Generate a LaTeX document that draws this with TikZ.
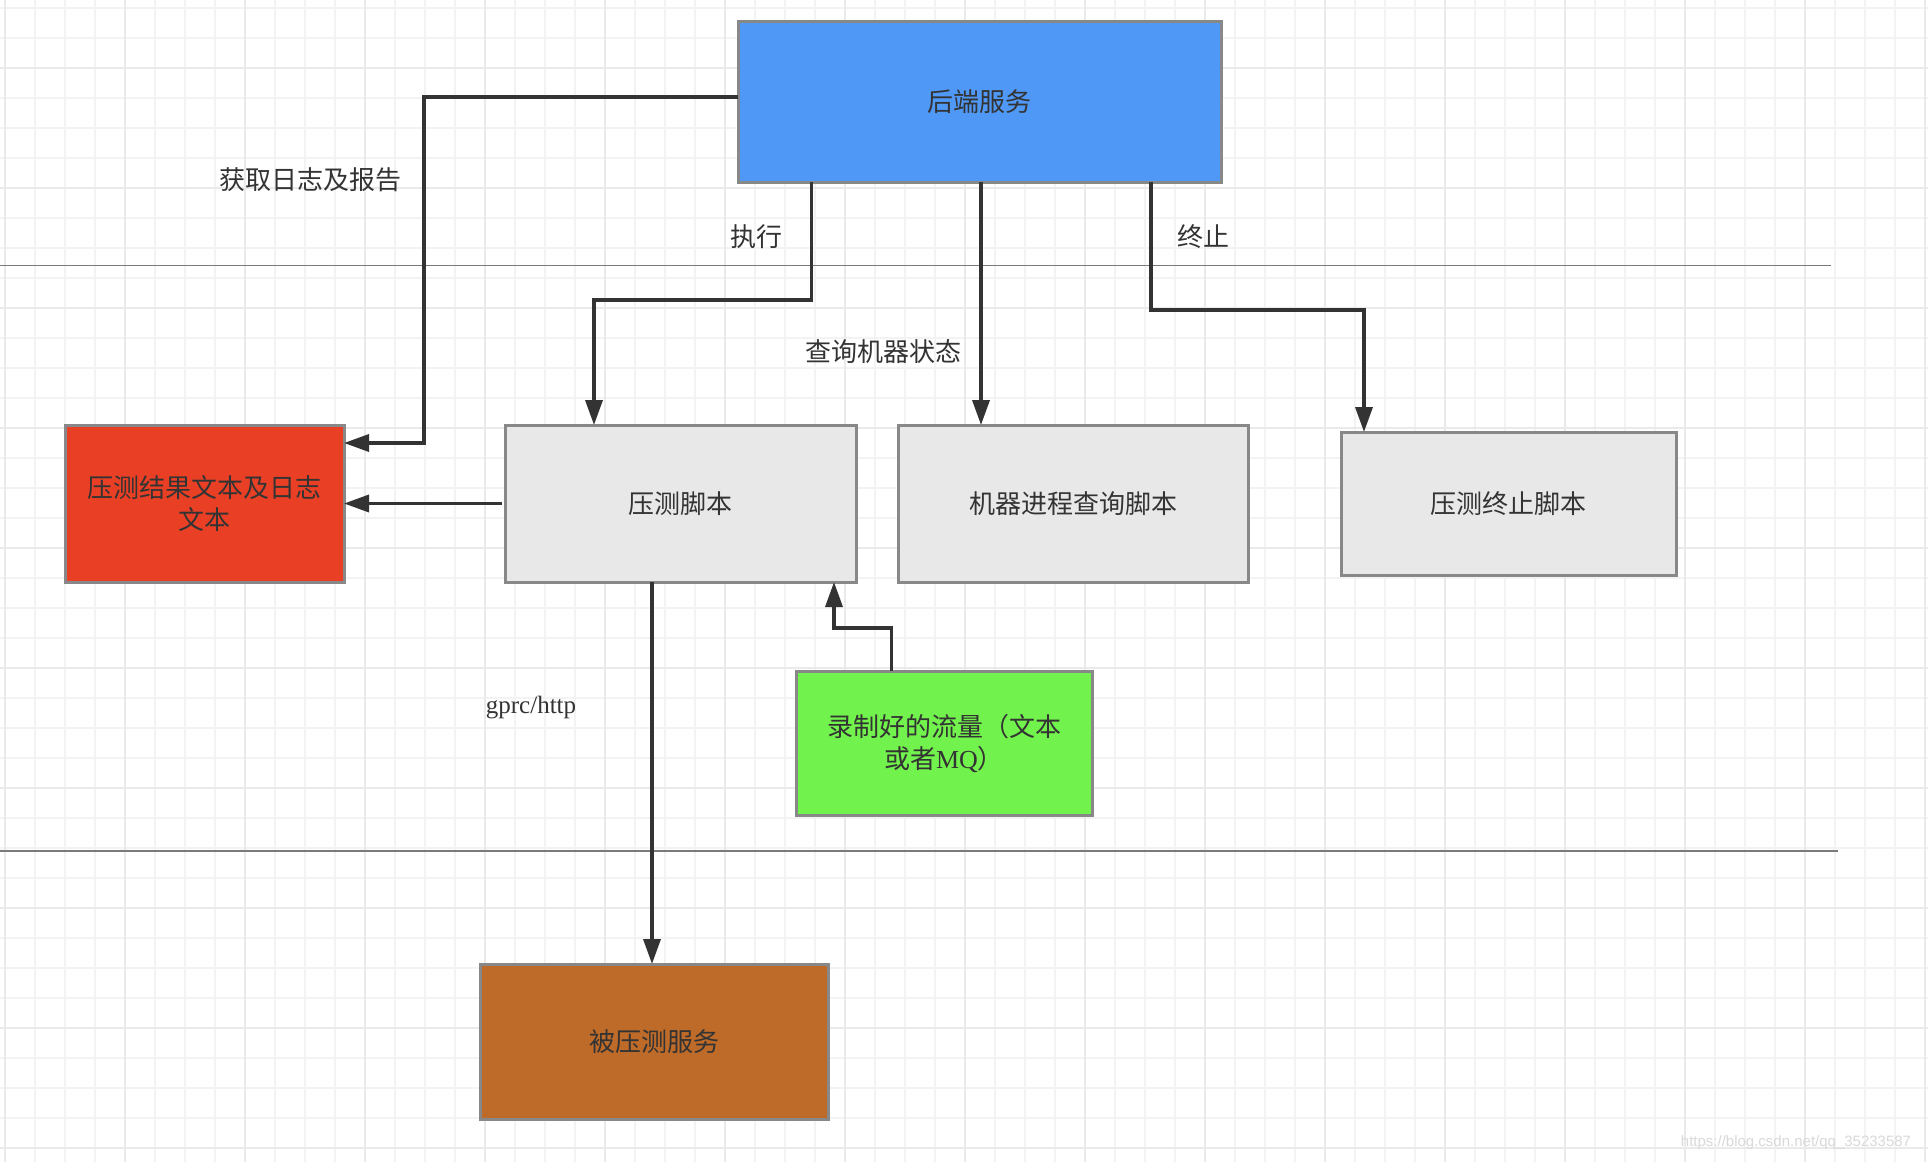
\documentclass[tikz,border=0pt]{standalone}
\usepackage{fontspec}
\setmainfont{Liberation Serif}
\newfontfamily\cjk{Noto Sans CJK SC}
\newfontfamily\wmfont{Liberation Sans}
\usetikzlibrary{arrows.meta}
\definecolor{txt}{HTML}{333333}
\definecolor{bordergray}{HTML}{888888}
\definecolor{blueC}{HTML}{4F98F5}
\definecolor{redC}{HTML}{E94025}
\definecolor{greenC}{HTML}{72F24C}
\definecolor{brownC}{HTML}{BE6A28}
\definecolor{lightC}{HTML}{E8E8E8}
\definecolor{gridminor}{HTML}{F3F3F3}
\definecolor{gridmajor}{HTML}{EAEAEA}
\definecolor{sepC}{HTML}{7A7A7A}
\begin{document}
\begin{tikzpicture}[x=1pt,y=-1pt,
  box/.style={draw=bordergray,line width=3pt,inner sep=0pt,outer sep=0pt,text=txt,align=center,
    font=\cjk\fontsize{26}{32}\selectfont},
  conn/.style={draw=txt,line width=3.5pt,-{Triangle[length=25pt,width=17pt]}},
  lbl/.style={text=txt,inner sep=0pt,font=\cjk\fontsize{26}{30}\selectfont},
  sep/.style={draw=sepC,line width=1.6pt}]
\useasboundingbox (0,0) rectangle (1928,1162);
\fill[white] (0,0) rectangle (1928,1162);
% grid
\foreach \i in {0,...,64} \draw[gridminor,line width=2pt] (5+30*\i,0) -- (5+30*\i,1162);
\foreach \i in {0,...,39} \draw[gridminor,line width=2pt] (0,8+30*\i) -- (1928,8+30*\i);
\foreach \i in {0,...,16} \draw[gridmajor,line width=2.5pt] (5+120*\i,0) -- (5+120*\i,1162);
\foreach \i in {0,...,9} \draw[gridmajor,line width=2.5pt] (0,68+120*\i) -- (1928,68+120*\i);
% separators
\draw[sep] (0,265.6) -- (1831,265.6);
\draw[sep] (0,851) -- (1838,851);
% boxes
\node[box,fill=blueC,minimum width=483pt,minimum height=161pt] (top) at (979.5,101.5) {后端服务};
\node[box,fill=redC,minimum width=279pt,minimum height=157pt] (red) at (204.5,503.5) {压测结果文本及日志\\文本};
\node[box,fill=lightC,minimum width=351pt,minimum height=157pt] (script) at (680.5,503.5) {压测脚本};
\node[box,fill=lightC,minimum width=350pt,minimum height=157pt] (query) at (1073,503.5) {机器进程查询脚本};
\node[box,fill=lightC,minimum width=335pt,minimum height=143pt] (stop) at (1508.5,503.5) {压测终止脚本};
\node[box,fill=greenC,minimum width=296pt,minimum height=144pt] (green) at (944,743) {录制好的流量（文本\\或者{\rmfamily MQ}）};
\node[box,fill=brownC,minimum width=348pt,minimum height=155pt] (brown) at (654,1041.5) {被压测服务};
% connectors
\draw[conn] ([yshift=4.5pt]top.west) -- ++(-314,0) |- ([yshift=60.5pt]red.east);
\draw[conn] ([xshift=73.5pt]top.south west) -- ++(0,118) -| ([xshift=89pt]script.north west);
\draw[conn] ([xshift=1.5pt]top.south) -- ([xshift=1.5pt]top.south |- query.north);
\draw[conn] ([xshift=171.5pt]top.south) -- ++(0,128) -| ([xshift=23pt]stop.north west);
\draw[conn] ([xshift=-3pt]script.west) -- (red.east);
\draw[conn] ([xshift=-28.5pt]script.south) -- ([xshift=-28.5pt]script.south |- brown.north);
\draw[conn] ([xshift=95.5pt]green.north west) -- ++(0,-43) -| ([xshift=-22pt]script.south east);
% labels
\node[lbl] (l1) at (310,180) {获取日志及报告};
\node[lbl] (l2) at (756,237) {执行};
\node[lbl] (l3) at (883,352) {查询机器状态};
\node[lbl] (l4) at (1203,237) {终止};
\node[text=txt,inner sep=0pt,font=\rmfamily\fontsize{25}{30}\selectfont] (l5) at (531,708) {gprc/http};
\node[text=gray!30,inner sep=0pt,font=\wmfont\fontsize{15}{18}\selectfont] (wm) at (1796,1143) {https://blog.csdn.net/qq\_35233587};
\end{tikzpicture}
\end{document}
